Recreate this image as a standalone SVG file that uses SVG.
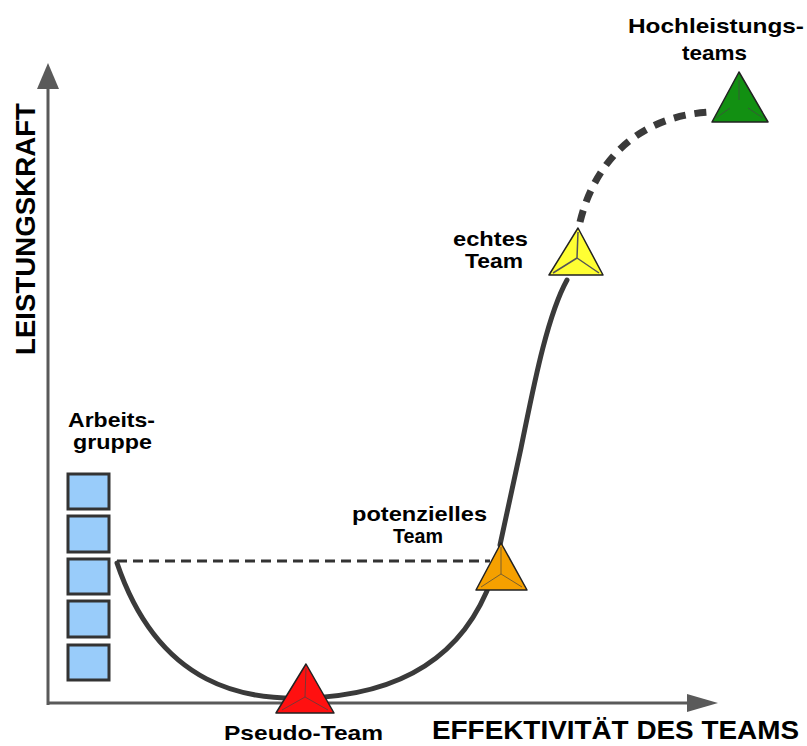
<svg xmlns="http://www.w3.org/2000/svg" width="807" height="746" viewBox="0 0 807 746">
<style>
.lbl{font-family:"Liberation Sans",Arial,sans-serif;font-weight:bold;fill:#000;}
.s21{font-size:21px;}
.axl{font-size:27px;}
.axb{font-size:26px;}
.box{fill:#99ccfa;stroke:#333;stroke-width:3;}
.axis{stroke:#5a5a5a;stroke-width:3;fill:none;}
.tri{stroke:#222;stroke-width:1.5;stroke-linejoin:round;}
.inner{stroke:#444;stroke-width:1;fill:none;opacity:0.7;}
.curve{stroke:#3a3a3a;stroke-width:5;fill:none;stroke-linecap:round;}
</style>
<rect width="807" height="746" fill="#fff"/>
<g id="axes">
  <line class="axis" x1="48" y1="705" x2="48" y2="85"/>
  <polygon points="48,63 37,89 59,89" fill="#5a5a5a"/>
  <line class="axis" x1="47" y1="703" x2="690" y2="703"/>
  <polygon points="718,703 687,694 687,712" fill="#5a5a5a"/>
  <text class="lbl axl" transform="translate(35,229) rotate(-90)" text-anchor="middle" textLength="252" lengthAdjust="spacingAndGlyphs">LEISTUNGSKRAFT</text>
  <text class="lbl axb" x="432" y="739" textLength="367" lengthAdjust="spacingAndGlyphs">EFFEKTIVITÄT DES TEAMS</text>
</g>
<g id="connectors">
  <line x1="117" y1="561" x2="490" y2="561" stroke="#333" stroke-width="3" stroke-dasharray="10,6"/>
  <path class="curve" d="M117,563 C160,690 250,700 305,698 C420,695 470,640 492,578"/>
  <path class="curve" d="M500,545 L521,448 C532,395 546,318 567,280"/>
  <path d="M580,222 C595,160 640,115 712,112" stroke="#3a3a3a" stroke-width="7" fill="none" stroke-dasharray="12,9"/>
</g>
<g id="arbeitsgruppe">
  <rect class="box" x="68" y="474" width="41" height="35"/>
  <rect class="box" x="68" y="516" width="41" height="36"/>
  <rect class="box" x="68" y="559" width="41" height="35"/>
  <rect class="box" x="68" y="601" width="41" height="36"/>
  <rect class="box" x="68" y="645" width="41" height="35"/>
  <text class="lbl s21" x="68" y="427" textLength="87" lengthAdjust="spacingAndGlyphs">Arbeits-</text>
  <text class="lbl s21" x="73" y="449" textLength="79" lengthAdjust="spacingAndGlyphs">gruppe</text>
</g>
<g id="pseudo-team">
  <polygon class="tri" points="306,664 276,713 334,713" fill="#ff1010" stroke="#c00"/>
  <path class="inner" d="M306,668 L305,697 M305,697 L282,710 M305,697 L328,710" stroke="#d00"/>
  <text class="lbl s21" x="224" y="740" textLength="159" lengthAdjust="spacingAndGlyphs">Pseudo-Team</text>
</g>
<g id="potenzielles-team">
  <polygon class="tri" points="501,543 476,590 527,590" fill="#f5a000"/>
  <path class="inner" d="M501,547 L501,574 M501,574 L481,587 M501,574 L522,587"/>
  <text class="lbl s21" x="352" y="521" textLength="135" lengthAdjust="spacingAndGlyphs">potenzielles</text>
  <text class="lbl s21" x="393" y="543" textLength="50" lengthAdjust="spacingAndGlyphs">Team</text>
</g>
<g id="echtes-team">
  <polygon class="tri" points="578,228 549,275 603,275" fill="#ffff33"/>
  <path d="M578,232 L577,258 M577,258 L553,273 M577,258 L599,273" stroke="#555" stroke-width="1.5" fill="none"/>
  <text class="lbl s21" x="453" y="246" textLength="75" lengthAdjust="spacingAndGlyphs">echtes</text>
  <text class="lbl s21" x="465" y="268" textLength="58" lengthAdjust="spacingAndGlyphs">Team</text>
</g>
<g id="hochleistungsteams">
  <polygon class="tri" points="739,72 712,122 768,122" fill="#129012"/>
  <path class="inner" d="M739,80 L739,100 M730,108 L716,118 M748,108 L763,118" stroke="#073" stroke-width="1.5"/>
  <text class="lbl s21" x="628" y="33" textLength="176" lengthAdjust="spacingAndGlyphs">Hochleistungs-</text>
  <text class="lbl s21" x="682" y="60" textLength="65" lengthAdjust="spacingAndGlyphs">teams</text>
</g>
</svg>
